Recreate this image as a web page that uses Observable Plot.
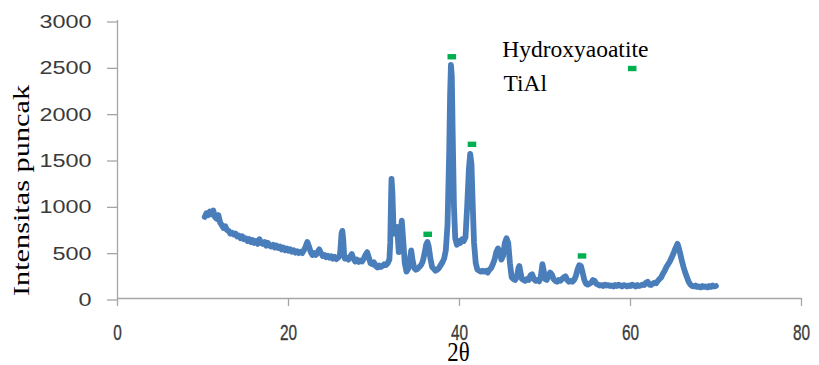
<!DOCTYPE html>
<html>
<head>
<meta charset="utf-8">
<script src="https://cdn.jsdelivr.net/npm/d3@7"></script>
<script src="https://cdn.jsdelivr.net/npm/@observablehq/plot@0.6"></script>
<style>
  html, body { margin: 0; padding: 0; background: #ffffff; }
</style>
</head>
<body>
<div id="chart"></div>
<script>
// ---- data ----
const twoTheta = [
  10.2,10.4,10.6,10.8,11.0,11.2,11.4,11.6,11.8,12.0,
  12.2,12.4,12.6,12.8,13.0,13.2,13.4,13.6,13.8,14.0,
  14.2,14.4,14.6,14.8,15.0,15.2,15.4,15.6,15.8,16.0,
  16.2,16.4,16.6,16.8,17.0,17.2,17.4,17.6,17.8,18.0,
  18.2,18.4,18.6,18.8,19.0,19.2,19.4,19.6,19.8,20.0,
  20.2,20.4,20.6,20.8,21.0,21.2,21.4,21.6,21.8,22.0,
  22.2,22.4,22.6,22.8,23.0,23.2,23.4,23.6,23.8,24.0,
  24.2,24.4,24.6,24.8,25.0,25.2,25.4,25.6,25.8,26.0,
  26.1,26.2,26.3,26.4,26.5,26.6,26.8,27.0,27.2,27.4,
  27.6,27.8,28.0,28.2,28.4,28.6,28.8,29.0,29.2,29.4,
  29.6,29.8,30.0,30.2,30.4,30.6,30.8,31.0,31.2,31.4,
  31.6,31.8,31.9,32.0,32.05,32.15,32.3,32.5,32.7,32.9,
  33.0,33.1,33.25,33.4,33.6,33.8,34.0,34.2,34.35,34.5,
  34.7,34.9,35.1,35.3,35.5,35.7,35.9,36.1,36.25,36.4,
  36.6,36.8,37.0,37.2,37.4,37.6,37.8,38.0,38.2,38.4,
  38.6,38.8,38.9,39.0,39.1,39.2,39.35,39.5,39.7,39.9,
  40.1,40.3,40.5,40.7,40.9,41.1,41.25,41.4,41.55,41.7,
  41.9,42.1,42.3,42.5,42.7,42.9,43.1,43.3,43.5,43.7,
  43.9,44.1,44.3,44.5,44.7,44.9,45.1,45.3,45.5,45.7,
  45.9,46.1,46.3,46.5,46.7,46.9,47.0,47.1,47.3,47.5,
  47.7,47.9,48.1,48.3,48.5,48.7,48.9,49.1,49.3,49.5,
  49.7,49.85,50.0,50.2,50.4,50.6,50.8,51.0,51.2,51.4,
  51.6,51.8,52.0,52.2,52.4,52.6,52.8,53.0,53.2,53.4,
  53.6,53.8,54.0,54.2,54.4,54.6,54.8,55.0,55.2,55.4,
  55.6,55.8,56.0,56.2,56.4,56.6,56.8,57.0,57.2,57.4,
  57.6,57.8,58.0,58.2,58.4,58.6,58.8,59.0,59.2,59.4,
  59.6,59.8,60.0,60.2,60.4,60.6,60.8,61.0,61.2,61.4,
  61.6,61.8,62.0,62.2,62.4,62.6,62.8,63.0,63.2,63.4,
  63.6,63.8,64.0,64.2,64.4,64.6,64.8,65.0,65.2,65.4,
  65.5,65.6,65.8,66.0,66.2,66.4,66.6,66.8,67.0,67.2,
  67.4,67.6,67.8,68.0,68.2,68.4,68.6,68.8,69.0,69.2,
  69.4,69.6,69.8,70.0
];
const intensity = [
  880,920,900,940,910,950,880,860,900,820,
  790,760,780,740,730,700,710,690,700,670,
  680,650,670,640,650,620,640,610,630,600,
  620,590,640,600,590,610,570,600,570,560,
  580,550,570,545,560,530,550,520,540,515,
  530,505,520,495,510,490,505,490,520,560,
  610,560,500,470,490,470,500,530,490,460,
  470,445,460,440,455,430,450,425,440,460,
  560,700,730,640,480,430,440,420,450,480,
  430,400,420,395,410,400,430,470,500,440,
  380,370,390,350,335,355,340,350,370,360,
  380,420,600,1100,1290,1150,700,750,770,500,
  520,700,840,650,380,290,320,420,520,420,
  330,310,320,340,360,400,480,580,610,560,
  430,340,320,300,310,330,360,390,430,520,
  800,1600,2200,2520,2400,1800,1000,650,580,620,
  600,640,620,660,1000,1400,1560,1450,1000,600,
  380,310,300,290,300,290,300,280,310,330,
  370,420,500,540,510,420,460,600,650,600,
  380,230,210,200,230,330,350,300,210,200,
  190,210,200,250,260,210,190,200,185,230,
  370,300,210,200,240,280,260,210,190,180,
  200,190,210,230,240,200,180,190,180,200,
  240,310,360,350,280,200,160,150,160,170,
  200,190,160,150,140,145,135,150,140,145,
  135,140,130,145,135,150,140,130,145,140,
  130,140,135,150,140,130,145,135,140,150,
  145,170,180,150,145,160,170,165,190,210,
  230,270,300,340,370,400,440,480,530,570,
  590,560,490,410,340,280,230,180,150,135,
  130,140,125,130,120,135,125,130,120,135,
  125,140,130,135
];
// green peak markers (2θ, intensity)
const markerTheta = [39.1, 41.46, 36.28, 54.33];
const markerIntensity = [2609, 1664, 693, 459];
// legend marker
const legendMarkerTheta = [60.2];
const legendMarkerIntensity = [2482];
const legendLabels = ["Hydroxyaoatite", "TiAl"];
const xTicks = [0, 20, 40, 60, 80];
const yTicks = [0, 500, 1000, 1500, 2000, 2500, 3000];
const xTitle = "2θ";
const yTitle = "Intensitas puncak";

// ---- build tables ----
const pattern = twoTheta.map((t, i) => ({t, v: intensity[i]}));
const markers = markerTheta.map((t, i) => ({t, v: markerIntensity[i]}));
const legendMarkers = legendMarkerTheta.map((t, i) => ({t, v: legendMarkerIntensity[i]}));

const gray = "#a6a6a6";
const textColor = "#3a3a3a";
const xLabelColor = "#3a3a3b";
const sans = "'Liberation Sans', Arial, sans-serif";
const serif = "'Liberation Serif', 'Times New Roman', serif";
const rectSymbol = { draw(context) { context.rect(-4.3, -2.7, 8.6, 5.4); } };

const chart = Plot.plot({
  width: 819,
  height: 365,
  marginLeft: 117,
  marginRight: 18,
  marginTop: 20,
  marginBottom: 67,
  style: { background: "#ffffff", overflow: "visible" },
  x: { domain: [0, 80], axis: null },
  y: { domain: [0, 3000] },
  marks: [
    Plot.ruleX([0], { stroke: gray, strokeWidth: 1.3 }),
    Plot.ruleY([0], { stroke: gray, strokeWidth: 1.3 }),
    // x ticks (downward) and labels
    Plot.ruleX(xTicks, { x: d => d, y1: 0, y2: 0, insetBottom: -8, stroke: gray, strokeWidth: 1.3 }),
    Plot.text(xTicks, {
      x: d => d, y: 0, dy: 41.3, text: d => String(d),
      textAnchor: "middle", lineAnchor: "bottom",
      fontSize: 22, fontFamily: sans, fill: xLabelColor,
      stroke: xLabelColor, strokeWidth: 0.35
    }),
    Plot.axisY(yTicks, {
      tickSize: 10, tickPadding: 16, stroke: gray, strokeWidth: 1.3,
      fill: textColor, fontSize: 18.6, fontFamily: sans, label: null, dy: 1.5,
      tickFormat: d => String(d)
    }),
    Plot.line(pattern, {
      x: "t", y: "v", stroke: "#4a7ebb", strokeWidth: 5.8,
      strokeLinejoin: "round", strokeLinecap: "round"
    }),
    Plot.dot(markers, { x: "t", y: "v", symbol: rectSymbol, fill: "#00b050", stroke: null }),
    Plot.dot(legendMarkers, { x: "t", y: "v", symbol: rectSymbol, fill: "#00b050", stroke: null }),
    Plot.text([legendLabels[0]], {
      text: d => d, frameAnchor: "top-left", dx: 384.7, dy: 36,
      textAnchor: "start", lineAnchor: "bottom", fontSize: 23.5, fontFamily: serif, fill: "#000"
    }),
    Plot.text([legendLabels[1]], {
      text: d => d, frameAnchor: "top-left", dx: 386, dy: 70.5,
      textAnchor: "start", lineAnchor: "bottom", fontSize: 23.5, fontFamily: serif, fill: "#000"
    }),
    Plot.text([xTitle], {
      text: d => d, frameAnchor: "bottom", dx: -1, dy: 62,
      textAnchor: "middle", lineAnchor: "bottom", fontSize: 22, fontFamily: serif, fill: "#000"
    }),
    Plot.text([yTitle], {
      text: d => d, frameAnchor: "left", dx: -88.8, dy: 31, rotate: -90,
      textAnchor: "middle", lineAnchor: "bottom", fontSize: 23.5, fontFamily: serif, fill: "#000"
    })
  ]
});

// emulate the stretched text of the reference image
function stretch(textEl, sx, sy) {
  let tr = textEl.getAttribute("transform");
  if (!tr) {
    const x = textEl.getAttribute("x"), y = textEl.getAttribute("y");
    const nx = x && !/em$/.test(x) ? parseFloat(x) : 0;
    const ny = y && !/em$/.test(y) ? parseFloat(y) : 0;
    if (x && !/em$/.test(x)) textEl.removeAttribute("x");
    if (y && !/em$/.test(y)) textEl.removeAttribute("y");
    tr = `translate(${nx},${ny})`;
  }
  textEl.setAttribute("transform", `${tr} scale(${sx},${sy})`);
}
chart.querySelectorAll(`g[fill="${xLabelColor}"] text`).forEach(t => stretch(t, 0.70, 1));
chart.querySelectorAll('g[aria-label="y-axis tick label"] text').forEach(t => stretch(t, 1.26, 1));
chart.querySelectorAll("text").forEach(t => {
  if (t.textContent === yTitle) stretch(t, 1.29, 1);
  if (t.textContent === xTitle) stretch(t, 1.04, 1.29);
});

document.getElementById("chart").appendChild(chart);
</script>
</body>
</html>
